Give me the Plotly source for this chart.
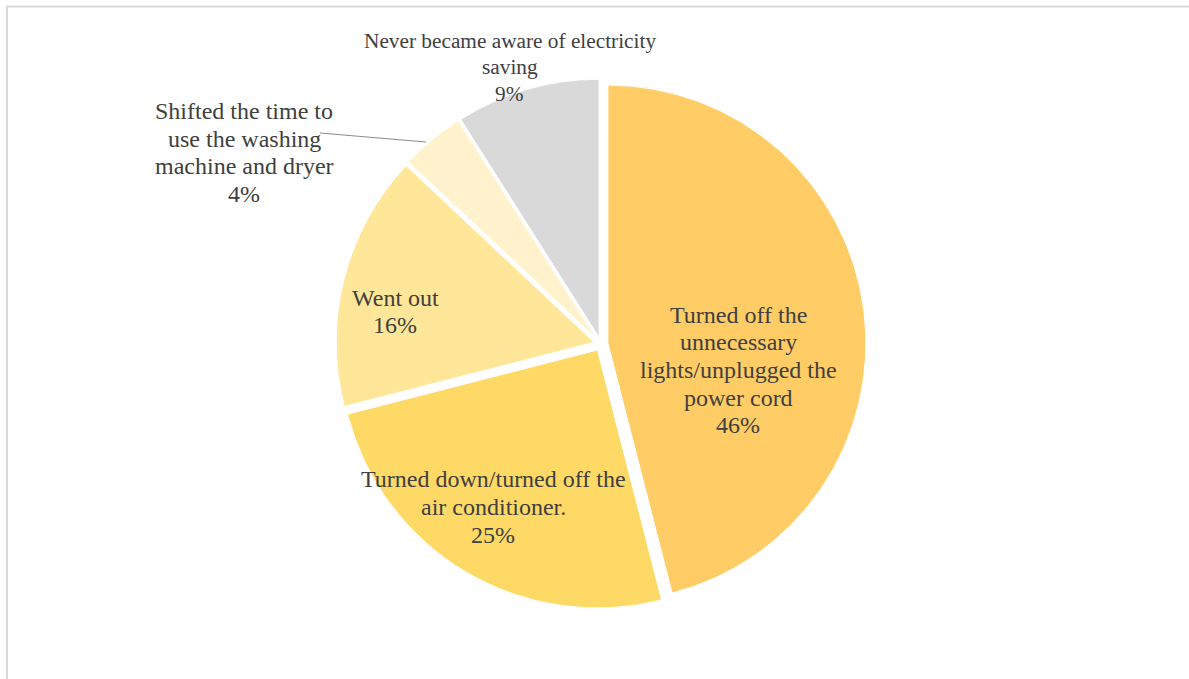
import plotly.graph_objects as go

W, H = 1189, 679

labels = [
    "Turned off the unnecessary lights/unplugged the power cord",
    "Turned down/turned off the air conditioner.",
    "Went out",
    "Shifted the time to use the washing machine and dryer",
    "Never became aware of electricity saving",
]
values = [46, 25, 16, 4, 9]
colors = ["#FFCC66", "#FFD966", "#FFE699", "#FFF2CC", "#D9D9D9"]
label_lines = [
    ["Turned off the", "unnecessary", "lights/unplugged the", "power cord", "46%"],
    ["Turned down/turned off the", "air conditioner.", "25%"],
    ["Went out", "16%"],
    ["Shifted the time to", "use the washing", "machine and dryer", "4%"],
    ["Never became aware of electricity", "saving", "9%"],
]
# label block centres in pixels, font sizes and line gaps
label_pos = [(738, 370), (493, 507), (395, 311.5), (244, 152.5), (509.5, 67.5)]
label_size = [24, 24, 24, 24, 21.3]
label_gap = [27.6, 27.6, 27.6, 27.6, 26.5]

def px(x):
    return x / W

def py(y):
    return 1 - y / H

cx, cy = 601, 344
half = 265

fig = go.Figure(go.Pie(
    labels=labels,
    values=values,
    sort=False,
    direction="clockwise",
    rotation=0,
    pull=[0.027] * len(values),
    marker=dict(colors=colors, line=dict(color="white", width=1)),
    textinfo="none",
    hoverinfo="label+percent",
    showlegend=False,
    domain=dict(x=[px(cx - 360), px(cx + 360)], y=[py(cy + half), py(cy - half)]),
))

annotations = []
for lines, (x, y), fs, gap in zip(label_lines, label_pos, label_size, label_gap):
    n = len(lines)
    for i, t in enumerate(lines):
        ly = y + (i - (n - 1) / 2) * gap
        annotations.append(dict(
            x=px(x), y=py(ly), xref="paper", yref="paper",
            text=t, showarrow=False, xanchor="center", yanchor="middle",
            align="center",
            font=dict(family="Liberation Serif", size=fs, color="#404040"),
        ))

shapes = [
    dict(type="rect", xref="paper", yref="paper",
         x0=px(7), y0=-0.05, x1=1.05, y1=py(6.5),
         line=dict(color="#D9D9D9", width=2), fillcolor="rgba(0,0,0,0)"),
    dict(type="line", xref="paper", yref="paper",
         x0=px(320), y0=py(133), x1=px(426), y1=py(142),
         line=dict(color="#8C8C8C", width=1.2)),
]

fig.update_layout(
    width=W, height=H,
    margin=dict(l=0, r=0, t=0, b=0),
    paper_bgcolor="white",
    plot_bgcolor="white",
    annotations=annotations,
    shapes=shapes,
)

fig.write_html(
    "out.html",
    config={"displayModeBar": False},
    post_script="document.body.style.margin='0px';document.body.style.overflow='hidden';",
)
